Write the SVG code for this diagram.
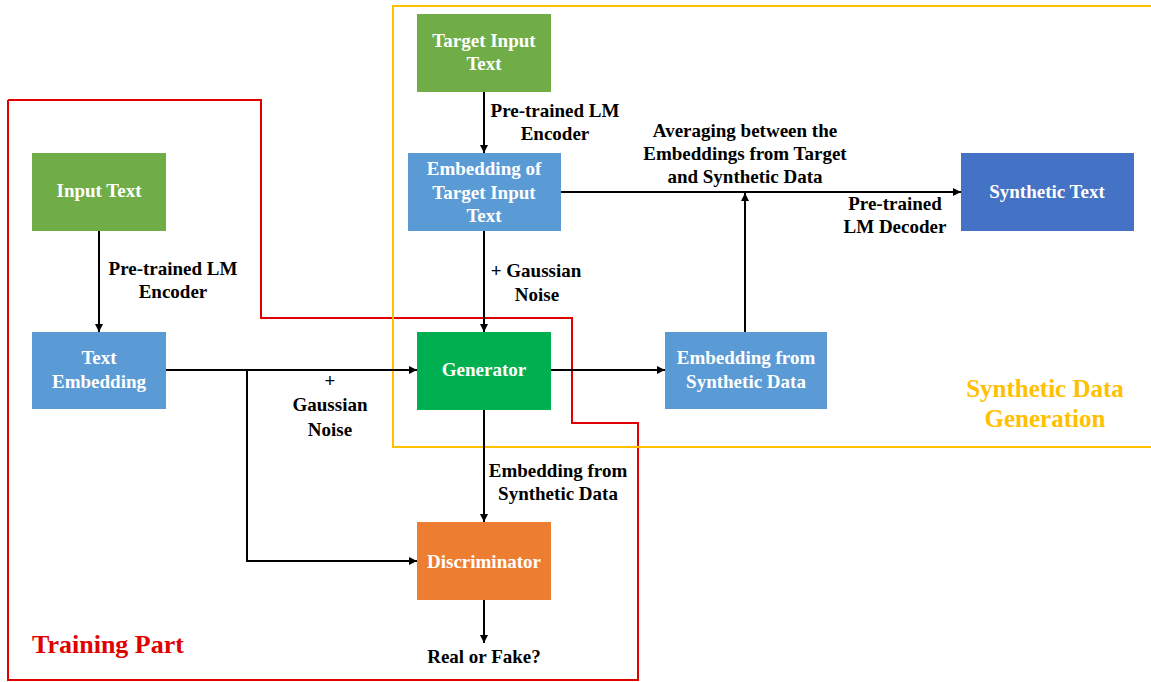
<svg xmlns="http://www.w3.org/2000/svg" width="1151" height="682" viewBox="0 0 1151 682">
<defs>
<marker id="arr" viewBox="0 0 10 10" refX="10" refY="5" markerWidth="4" markerHeight="4" orient="auto" markerUnits="strokeWidth">
<path d="M0,0 L10,5 L0,10 z" fill="#000"/>
</marker>
<style>
text{font-family:"Liberation Serif","Times New Roman",serif;font-weight:bold;font-size:19px;text-anchor:middle}
.w{fill:#fff}
.k{fill:#000}
.box{stroke:none}
.c{fill:none;stroke:#000;stroke-width:2;marker-end:url(#arr)}
.l{fill:none;stroke:#000;stroke-width:2}
</style>
</defs>
<rect width="1151" height="682" fill="#fff"/>
<g id="regions">
<polyline points="8,100 261,100 261,318 572,318 572,423 638,423 638,680 8,680 8,100" fill="none" stroke="#E00000" stroke-width="2"/>
<rect x="393" y="6" width="770" height="441" fill="none" stroke="#FFC000" stroke-width="2"/>
<text x="108" y="653" style="font-size:26px;fill:#E00000">Training Part</text>
<text x="1045" y="397" style="font-size:25px;fill:#FFC000">Synthetic Data</text>
<text x="1045" y="427" style="font-size:25px;fill:#FFC000">Generation</text>
</g>
<g id="connectors">
<line class="c" x1="484" y1="92" x2="484" y2="153"/>
<line class="c" x1="99" y1="231" x2="99" y2="332"/>
<line class="c" x1="166" y1="370" x2="417" y2="370"/>
<polyline class="c" points="247,370 247,561 417,561"/>
<line class="c" x1="484" y1="231" x2="484" y2="332"/>
<line class="c" x1="551" y1="370" x2="665" y2="370"/>
<line class="c" x1="745" y1="332" x2="745" y2="193"/>
<line class="c" x1="561" y1="192" x2="961" y2="192"/>
<line class="c" x1="484" y1="410" x2="484" y2="522"/>
<line class="c" x1="484" y1="600" x2="484" y2="643"/>
<text class="k" x="555" y="117">Pre-trained LM</text>
<text class="k" x="555" y="140">Encoder</text>
<text class="k" x="173" y="275">Pre-trained LM</text>
<text class="k" x="173" y="298">Encoder</text>
<text class="k" x="330" y="387">+</text>
<text class="k" x="330" y="411">Gaussian</text>
<text class="k" x="330" y="436">Noise</text>
<text class="k" x="536" y="277">+ Gaussian</text>
<text class="k" x="537" y="301">Noise</text>
<text class="k" x="745" y="137">Averaging between the</text>
<text class="k" x="745" y="160">Embeddings from Target</text>
<text class="k" x="745" y="183">and Synthetic Data</text>
<text class="k" x="895" y="210">Pre-trained</text>
<text class="k" x="895" y="233">LM Decoder</text>
<text class="k" x="558" y="477">Embedding from</text>
<text class="k" x="558" y="500">Synthetic Data</text>
<text class="k" x="484" y="663">Real or Fake?</text>
</g>
<g id="target-input-text">
<rect class="box" x="417" y="14" width="134" height="78" fill="#70AD47"/>
<text class="w" x="484" y="47">Target Input</text>
<text class="w" x="484" y="70">Text</text>
</g>
<g id="embedding-target">
<rect class="box" x="408" y="153" width="153" height="78" fill="#5B9BD5"/>
<text class="w" x="484" y="175">Embedding of</text>
<text class="w" x="484" y="199">Target Input</text>
<text class="w" x="484" y="222">Text</text>
</g>
<g id="input-text">
<rect class="box" x="32" y="153" width="134" height="78" fill="#70AD47"/>
<text class="w" x="99" y="197">Input Text</text>
</g>
<g id="text-embedding">
<rect class="box" x="32" y="332" width="134" height="77" fill="#5B9BD5"/>
<text class="w" x="99" y="364">Text</text>
<text class="w" x="99" y="388">Embedding</text>
</g>
<g id="generator">
<rect class="box" x="417" y="332" width="134" height="78" fill="#00B050"/>
<text class="w" x="484" y="376">Generator</text>
</g>
<g id="embedding-synthetic">
<rect class="box" x="665" y="332" width="162" height="77" fill="#5B9BD5"/>
<text class="w" x="746" y="364">Embedding from</text>
<text class="w" x="746" y="388">Synthetic Data</text>
</g>
<g id="synthetic-text">
<rect class="box" x="961" y="153" width="173" height="78" fill="#4472C4"/>
<text class="w" x="1047" y="198">Synthetic Text</text>
</g>
<g id="discriminator">
<rect class="box" x="417" y="522" width="134" height="78" fill="#ED7D31"/>
<text class="w" x="484" y="568">Discriminator</text>
</g>
</svg>
